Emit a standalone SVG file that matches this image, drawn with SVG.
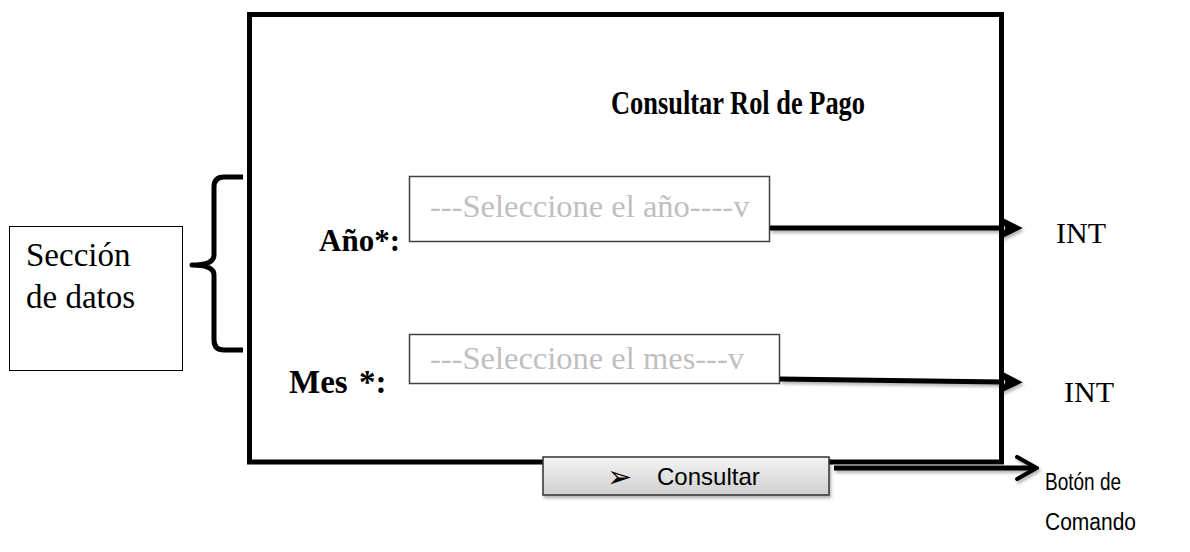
<svg xmlns="http://www.w3.org/2000/svg" width="1190" height="552" viewBox="0 0 1190 552">
<style>
.serif{font-family:"Liberation Serif","Times New Roman",serif;}
.bold{font-weight:bold;}
.sans{font-family:"Liberation Sans",Arial,sans-serif;}
.thick{stroke:#000;stroke-width:5;fill:none;}
.field{fill:#fff;stroke:#404040;stroke-width:1.5;}
.ph{fill:#bfbfbf;font-size:32.5px;}
</style>
<defs>
<marker id="head" viewBox="0 0 10 10" refX="1" refY="5" markerWidth="4.6" markerHeight="4.6" orient="auto" markerUnits="strokeWidth">
<path d="M0,0 L10,5 L0,10 L2.5,5 z" fill="#000"/>
</marker>
<marker id="chev" viewBox="0 0 10 10" refX="8.5" refY="5" markerWidth="5.5" markerHeight="5.5" orient="auto" markerUnits="strokeWidth">
<path d="M2,1 L9,5 L2,9" fill="none" stroke="#000" stroke-width="1.5" stroke-linecap="round" stroke-linejoin="miter"/>
</marker>
<linearGradient id="btn" x1="0" y1="0" x2="0" y2="1">
<stop offset="0" stop-color="#f4f4f4"/>
<stop offset="1" stop-color="#cfcfcf"/>
</linearGradient>
<filter id="sh" x="-10%" y="-30%" width="120%" height="180%">
<feDropShadow dx="1.5" dy="2.5" stdDeviation="1.5" flood-color="#000" flood-opacity="0.3"/>
</filter>
</defs>

<g id="main-frame">
<path class="thick" d="M543,462 L249.5,462 L249.5,14.5 L1001.5,14.5 L1001.5,462 L829,462"/>
<text class="serif bold" x="611" y="114" font-size="34" textLength="254" lengthAdjust="spacingAndGlyphs">Consultar Rol de Pago</text>
</g>

<g id="seccion-datos">
<rect x="9.5" y="226.5" width="173" height="144" fill="#fff" stroke="#000" stroke-width="1"/>
<text class="serif" x="26" y="266" font-size="33">Sección</text>
<text class="serif" x="26" y="308" font-size="33">de datos</text>
</g>

<g id="llave">
<path class="thick" d="M243,177 L224,177 Q214,177 214,187 L214,255 Q214,265 192,265 Q214,265 214,275 L214,340 Q214,350 224,350 L243,350" stroke-linejoin="round"/>
</g>

<g id="anio">
<text class="serif bold" x="319" y="251" font-size="31">Año*:</text>
<rect class="field" x="409.5" y="176.5" width="360" height="65"/>
<text class="serif ph" x="430" y="217">---Seleccione el año----v</text>
</g>

<g id="mes">
<text class="serif bold" x="289" y="393" font-size="33" word-spacing="3">Mes *:</text>
<rect class="field" x="409.5" y="334.5" width="370" height="49"/>
<text class="serif ph" x="430" y="369">---Seleccione el mes---v</text>
</g>

<g id="boton">
<rect x="543" y="457" width="286" height="38" fill="url(#btn)" stroke="#333" stroke-width="1.5" filter="url(#sh)"/>
<text x="607" y="487" font-size="30" font-family="'DejaVu Sans',sans-serif">➢</text>
<text class="sans" x="657" y="485" font-size="24">Consultar</text>
</g>

<g id="conectores" filter="url(#sh)">
<path class="thick" d="M770,228 L1002,228" marker-end="url(#head)"/>
<path class="thick" d="M780,379 L1002,382" marker-end="url(#head)"/>
<path class="thick" d="M834,468 L1035,468" marker-end="url(#chev)"/>
</g>

<g id="etiquetas">
<text class="serif" x="1056" y="243" font-size="30">INT</text>
<text class="serif" x="1064" y="402" font-size="30">INT</text>
<text class="sans" x="1045" y="490" font-size="23" textLength="76" lengthAdjust="spacingAndGlyphs">Botón de</text>
<text class="sans" x="1045" y="530" font-size="23" textLength="91" lengthAdjust="spacingAndGlyphs">Comando</text>
</g>
</svg>
